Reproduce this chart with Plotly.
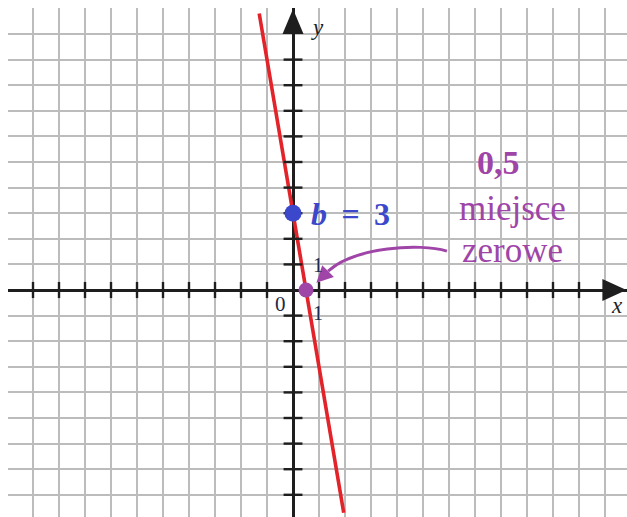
import plotly.graph_objects as go

# ---- data ----
line_x = [-1.3, 1.95]
line_y = [10.8, -8.7]
intercept_pt = (0, 3)        # b = 3
zero_pt = (0.5, 0)           # miejsce zerowe 0,5

grid_x = list(range(-10, 13))
grid_y = list(range(-8, 11))
tick_x = [v for v in range(-10, 12) if v != 0]
tick_y = [v for v in range(-8, 10) if v != 0]

SERIF = "Liberation Serif"
AX = "#1e1e1e"
PURPLE = "#a045a8"
BLUE = "#3b48cc"
RED = "#e3232a"

fig = go.Figure()

# red line
fig.add_trace(go.Scatter(x=line_x, y=line_y, mode="lines",
                         line=dict(color=RED, width=3.6), hoverinfo="skip"))

# axis ticks
fig.add_trace(go.Scatter(x=tick_x, y=[0] * len(tick_x), mode="markers",
                         marker=dict(symbol="line-ns", size=11.5,
                                     line=dict(color=AX, width=2.4)),
                         hoverinfo="skip"))
fig.add_trace(go.Scatter(x=[0] * len(tick_y), y=tick_y, mode="markers",
                         marker=dict(symbol="line-ew", size=13.5,
                                     line=dict(color=AX, width=2.4)),
                         hoverinfo="skip"))

# points
fig.add_trace(go.Scatter(x=[intercept_pt[0]], y=[intercept_pt[1]], mode="markers",
                         marker=dict(color=BLUE, size=17), hoverinfo="skip"))
fig.add_trace(go.Scatter(x=[zero_pt[0]], y=[zero_pt[1]], mode="markers",
                         marker=dict(color=PURPLE, size=15), hoverinfo="skip"))

# arrowheads of axes
fig.add_shape(type="path", xref="x", yref="y", xsizemode="pixel", ysizemode="pixel",
              xanchor=0, yanchor=10, path="M-10.5,0 L10.5,0 L0,25 Z",
              fillcolor=AX, line=dict(width=0))
fig.add_shape(type="path", xref="x", yref="y", xsizemode="pixel", ysizemode="pixel",
              xanchor=11.9, yanchor=0, path="M0,-11 L0,11 L24,0 Z",
              fillcolor=AX, line=dict(width=0))

# curved purple arrow
fig.add_shape(type="path", xref="x", yref="y",
              path="M5.92,1.52 C4.88,1.84 2.38,1.68 1.35,0.74",
              line=dict(color=PURPLE, width=3))
fig.add_annotation(x=0.9, y=0.28, ax=1.38, ay=0.77, axref="x", ayref="y",
                   xref="x", yref="y", text="", showarrow=True,
                   arrowhead=2, arrowsize=1.1, arrowwidth=3, arrowcolor=PURPLE)

# texts
def txt(x, y, s, size, color, xanchor="center", yanchor="middle"):
    fig.add_annotation(x=x, y=y, xref="x", yref="y", text=s, showarrow=False,
                       font=dict(family=SERIF, size=size, color=color),
                       xanchor=xanchor, yanchor=yanchor)

txt(0.96, 10.25, "<i>y</i>", 23, AX)
txt(12.45, -0.62, "<i>x</i>", 23, AX)
txt(-0.5, -0.55, "0", 21, "#1c2a44")
txt(0.96, 0.98, "1", 20, "#1c2a44")
txt(0.96, -0.9, "1", 20, "#1c2a44")
txt(0.62, 2.98, "<b><i>b</i>&#8201; = &#8201;3</b>", 32, BLUE, xanchor="left")
txt(7.9, 4.97, "<b>0,5</b>", 34, PURPLE)
txt(8.45, 3.2, "miejsce", 35, PURPLE)
txt(8.45, 1.55, "zerowe", 35, PURPLE)

fig.update_layout(
    width=627, height=517,
    margin=dict(l=8, r=0, t=8, b=0),
    paper_bgcolor="white", plot_bgcolor="white",
    showlegend=False,
    xaxis=dict(range=[-10.962, 12.846], tickvals=grid_x, showticklabels=False,
               showgrid=True, gridcolor="#bcbcbc", gridwidth=1.6,
               zeroline=True, zerolinecolor=AX, zerolinewidth=2.6,
               showline=False, fixedrange=True),
    yaxis=dict(range=[-8.867, 11.016], tickvals=grid_y, showticklabels=False,
               showgrid=True, gridcolor="#bcbcbc", gridwidth=1.6,
               zeroline=True, zerolinecolor=AX, zerolinewidth=2.6,
               showline=False, fixedrange=True),
)

fig.write_html("out.html", config={"displayModeBar": False},
               post_script="document.body.style.margin='0';")
